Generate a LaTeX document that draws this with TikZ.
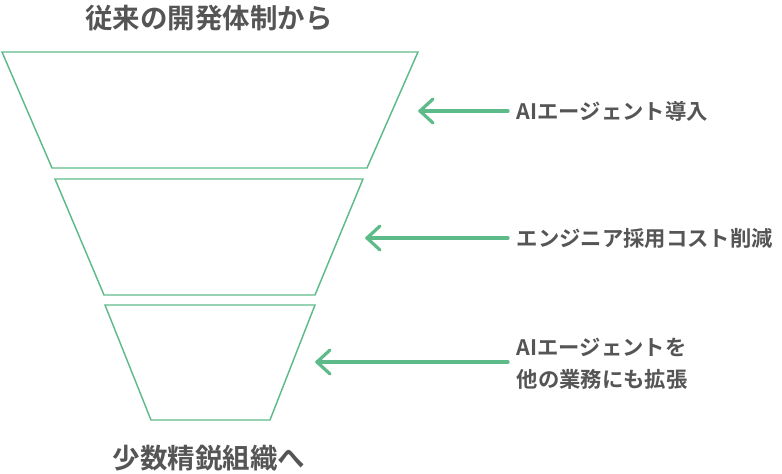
\documentclass[tikz,border=0pt]{standalone}
\usepackage{fontspec}
\newfontfamily\jp{Noto Sans CJK JP}[BoldFont={Noto Sans CJK JP Bold}]
\definecolor{grn}{HTML}{5DBB8A}
\definecolor{txt}{HTML}{555555}
\begin{document}
\begin{tikzpicture}[x=0.75pt,y=-0.75pt,
  trap/.style={draw=grn,line width=1.1pt},
  arr/.style={draw=grn,line width=2.4pt,line cap=round,line join=round},
  lbl/.style={anchor=west,text=txt,font=\jp\bfseries\fontsize{16}{24}\selectfont,align=left},
  ttl/.style={text=txt,font=\jp\bfseries\fontsize{20.6}{24}\selectfont}]
\useasboundingbox (0,0) rectangle (782,474);
\draw[trap] (2,52) -- (418,52) -- (367,168) -- (52,168) -- cycle;
\draw[trap] (55,179) -- (363,179) -- (315,295) -- (104,295) -- cycle;
\draw[trap] (105,305) -- (315,305) -- (270,420) -- (151,420) -- cycle;
\node[ttl] (t) at (209,18) {従来の開発体制から};
\node[ttl] (b) at (209,458) {少数精鋭組織へ};
\node[lbl] (l1) at (512,111) {AIエージェント導入};
\node[lbl] (l2) at (512,238) {エンジニア採用コスト削減};
\node[lbl] (l3) at (512,364) {AIエージェントを\\他の業務にも拡張};
\coordinate (a1) at (420,111);
\coordinate (a2) at (367,238);
\coordinate (a3) at (317,362);
\draw[arr] (l1.west) ++(-4,0) -- (a1);
\draw[arr] (l2.west) ++(-4,0) -- (a2);
\draw[arr] (l3.west |- a3) ++(-4,0) -- (a3);
\foreach \a in {a1,a2,a3}{
  \draw[arr] ([shift={(13,-12)}]\a) -- (\a) -- ([shift={(13,12)}]\a);
}
\end{tikzpicture}
\end{document}
